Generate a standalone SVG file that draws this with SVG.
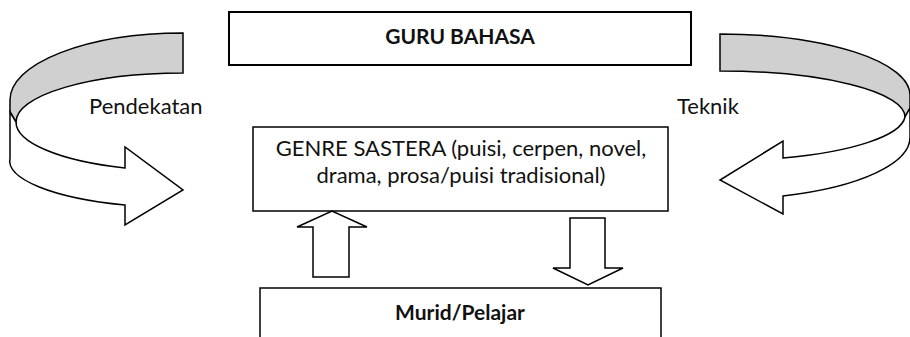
<svg xmlns="http://www.w3.org/2000/svg" width="910" height="337" viewBox="0 0 910 337">
<style>
.box{fill:#fff;stroke:#000;stroke-width:2}
.arr{fill:#fff;stroke:#000;stroke-width:1.5;stroke-linejoin:miter}
.back{fill:#d0d0d0;stroke:#000;stroke-width:1.5}
.t{font-family:Lato,"Liberation Sans",sans-serif;font-size:22px;fill:#111}
.b{font-weight:bold;font-size:21px}
</style>
<rect width="910" height="337" fill="#fff"/>
<g id="guru">
<rect class="box" x="229" y="12" width="462" height="53"/>
<text class="t b" x="460" y="44" text-anchor="middle">GURU BAHASA</text>
</g>
<g id="genre">
<rect class="box" x="253" y="127" width="415" height="84" style="stroke-width:1.5"/>
<text class="t" x="461" y="156" text-anchor="middle">GENRE SASTERA (puisi, cerpen, novel,</text>
<text class="t" x="461" y="183" text-anchor="middle">drama, prosa/puisi tradisional)</text>
</g>
<g id="murid">
<rect class="box" x="260" y="288" width="401" height="60" style="stroke-width:1.5"/>
<text class="t b" x="460" y="320" text-anchor="middle">Murid/Pelajar</text>
</g>
<g id="label-pendekatan">
<text class="t" x="89" y="114">Pendekatan</text>
</g>
<g id="label-teknik">
<text class="t" x="677" y="114">Teknik</text>
</g>
<g id="connectors">
<g id="curve-left">
<path class="back" d="M183,33 A173,67 0 0 0 10,100 L10,112 L16,122 A167,49 0 0 1 183,73 Z"/>
<path class="arr" d="M10,112 L16,122 A167,49 0 0 0 125,168 L125,147 L183,190 L125,225 L125,205 A173,47 0 0 1 10,158 Z"/>
</g>
<g id="curve-right">
<path class="back" d="M720,34 A190,61 0 0 1 910,95 L910,108 L905,117 A185,46 0 0 0 720,71 Z"/>
<path class="arr" d="M910,108 L905,117 A185,46 0 0 1 783,158 L783,141 L720,180 L783,214 L783,196 A190,62 0 0 0 910,137 Z"/>
</g>
<path id="up-arrow" class="arr" d="M313,277 L313,227 L297,227 L332,211 L367,227 L349,227 L349,277 Z"/>
<path id="down-arrow" class="arr" d="M570,218 L605,218 L605,268 L623,268 L588,285 L553,268 L570,268 Z"/>
</g>
</svg>
